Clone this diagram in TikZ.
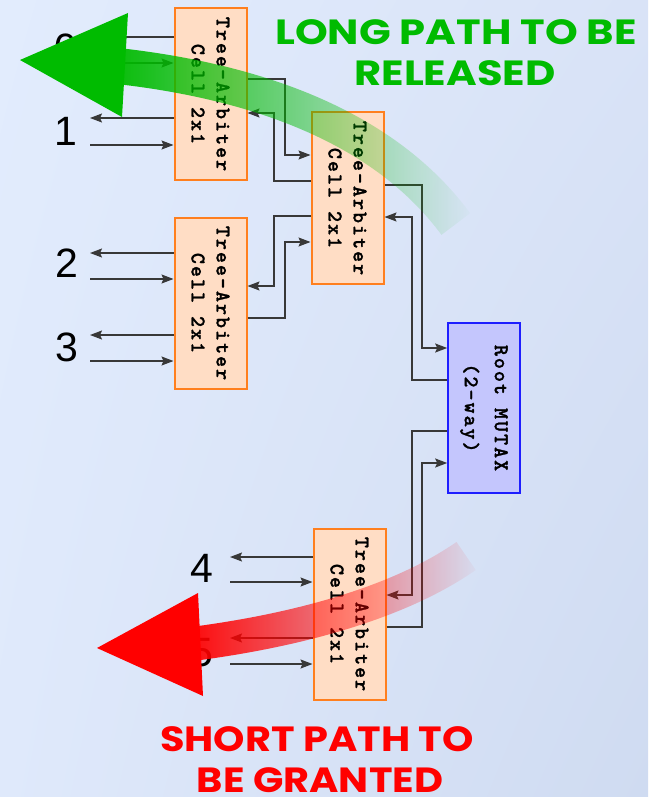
\documentclass[tikz,border=0pt]{standalone}
\usepackage{fontspec}
\setmainfont{Liberation Sans}
\newfontfamily\cellfont{lmmonolt10-bold}[Extension=.otf, LetterSpace=9.5, FakeBold=1.2]
\newfontfamily\headfont{Poppins}
\usetikzlibrary{arrows.meta,fadings,shadings,calc}

\definecolor{bgUL}{HTML}{E2ECFD}
\definecolor{bgUR}{HTML}{D9E3F7}
\definecolor{bgLL}{HTML}{DFE9FB}
\definecolor{bgLR}{HTML}{CFDBF1}
\definecolor{cellfill}{HTML}{FFDDC5}
\definecolor{celldraw}{HTML}{FF7F1E}
\definecolor{rootfill}{HTML}{C4C6FD}
\definecolor{rootdraw}{HTML}{1E1EFF}
\definecolor{wire}{HTML}{383838}
\definecolor{longgreen}{HTML}{00BB00}
\definecolor{shortred}{HTML}{FF0000}

\tikzfading[name=fadetoright, left color=transparent!0, middle color=transparent!50, right color=transparent!100]

\tikzset{
  cellbox/.style={draw=celldraw, fill=cellfill, line width=2pt,
    minimum width=72pt, minimum height=171pt, inner sep=0pt},
  rootbox/.style={draw=rootdraw, fill=rootfill, line width=1.6pt,
    minimum width=72pt, minimum height=170pt, inner sep=0pt},
  celltext/.style={rotate=-90, align=center, inner sep=0pt,
    font=\cellfont\fontsize{21}{25}\selectfont},
  roottext/.style={rotate=-90, align=center, inner sep=0pt,
    font=\cellfont\fontsize{21}{30}\selectfont},
  portlabel/.style={inner sep=0pt, font=\fontsize{41}{41}\selectfont},
  conn/.style={draw=wire, line width=1.3pt,
    -{Stealth[length=12pt,width=9pt,inset=2pt]}},
  headline/.style={inner sep=0pt, anchor=base,
    font=\headfont\bfseries\fontsize{35}{35}\selectfont},
}

\begin{document}
\begin{tikzpicture}[x=1pt,y=-1pt]
  % backdrop
  \useasboundingbox (0,0) rectangle (648,797);
  \shade[upper left=bgUL, upper right=bgUR, lower left=bgLL, lower right=bgLR]
    (0,0) rectangle (648,797);

  % arbiter cells and the root mutex
  \node[cellbox] (A) at (210.5,94) {};
  \node[cellbox] (B) at (347.5,198) {};
  \node[cellbox] (C) at (210.5,303) {};
  \node[cellbox] (D) at (349.5,614) {};
  \node[rootbox] (R) at (484,408) {};

  \node[celltext] (At) at (A.center) {Tree-Arbiter\\Cell 2x1};
  \node[celltext] (Bt) at (B.center) {Tree-Arbiter\\Cell 2x1};
  \node[celltext] (Ct) at (C.center) {Tree-Arbiter\\Cell 2x1};
  \node[celltext] (Dt) at (D.center) {Tree-Arbiter\\Cell 2x1};
  \node[roottext] (Rt) at (R.center) {Root MUTAX\\(2-way)};

  % client port numbers
  \node[portlabel] (p0) at (66,48) {0};
  \node[portlabel] (p1) at (66,131) {1};
  \node[portlabel] (p2) at (67,263) {2};
  \node[portlabel] (p3) at (67,347) {3};
  \node[portlabel] (p4) at (202,568) {4};
  \node[portlabel] (p5) at (202,653) {5};

  % client request / grant lines
  \draw[conn] (A.west |- 0,37) -- (90,37);
  \draw[conn] (90,63) -- (A.west |- 0,63);
  \draw[conn] (A.west |- 0,118) -- (90,118);
  \draw[conn] (90,145) -- (A.west |- 0,145);
  \draw[conn] (C.west |- 0,253) -- (90,253);
  \draw[conn] (90,279) -- (C.west |- 0,279);
  \draw[conn] (C.west |- 0,335) -- (90,335);
  \draw[conn] (90,361) -- (C.west |- 0,361);
  \draw[conn] (D.west |- 0,557) -- (230,557);
  \draw[conn] (230,582) -- (D.west |- 0,582);
  \draw[conn] (D.west |- 0,638) -- (230,638);
  \draw[conn] (230,664) -- (D.west |- 0,664);

  % cell A <-> cell B
  \draw[conn] (A.east |- 0,79) -- (285,79) -- (285,155) -- (B.west |- 0,155);
  \draw[conn] (B.west |- 0,181) -- (274,181) -- (274,113) -- (A.east |- 0,113);
  % cell C <-> cell B
  \draw[conn] (B.west |- 0,216) -- (274,216) -- (274,286) -- (C.east |- 0,286);
  \draw[conn] (C.east |- 0,318) -- (285,318) -- (285,242) -- (B.west |- 0,242);
  % cell B <-> root
  \draw[conn] (B.east |- 0,185) -- (422,185) -- (422,348) -- (R.west |- 0,348);
  \draw[conn] (R.west |- 0,380) -- (412,380) -- (412,217) -- (B.east |- 0,217);
  % cell D <-> root
  \draw[conn] (R.west |- 0,431) -- (412,431) -- (412,595) -- (D.east |- 0,595);
  \draw[conn] (D.east |- 0,627) -- (422,627) -- (422,463) -- (R.west |- 0,463);

  % long release path (green)
  \draw[longgreen, line width=36pt, path fading=fadetoright]
    (118,66) .. controls (260,82) and (385,128) .. (456,224);
  \fill[longgreen] (20,60) -- (128,13) -- (122,117) -- cycle;

  % short grant path (red)
  \draw[shortred, line width=34pt, path fading=fadetoright]
    (192,644) .. controls (300,630) and (400,602) .. (466,556);
  \fill[shortred] (97,648) -- (198,593) -- (203,696) -- cycle;

  % captions
  \node[headline, text=longgreen] (g1) at (456,45) {\scalebox{1.19}[1]{LONG PATH TO BE}};
  \node[headline, text=longgreen] (g2) at (455,86) {\scalebox{1.19}[1]{RELEASED}};
  \node[headline, text=shortred] (r1) at (317,751) {\scalebox{1.14}[1]{SHORT PATH TO}};
  \node[headline, text=shortred] (r2) at (320,792) {\scalebox{1.14}[1]{BE GRANTED}};
\end{tikzpicture}
\end{document}
